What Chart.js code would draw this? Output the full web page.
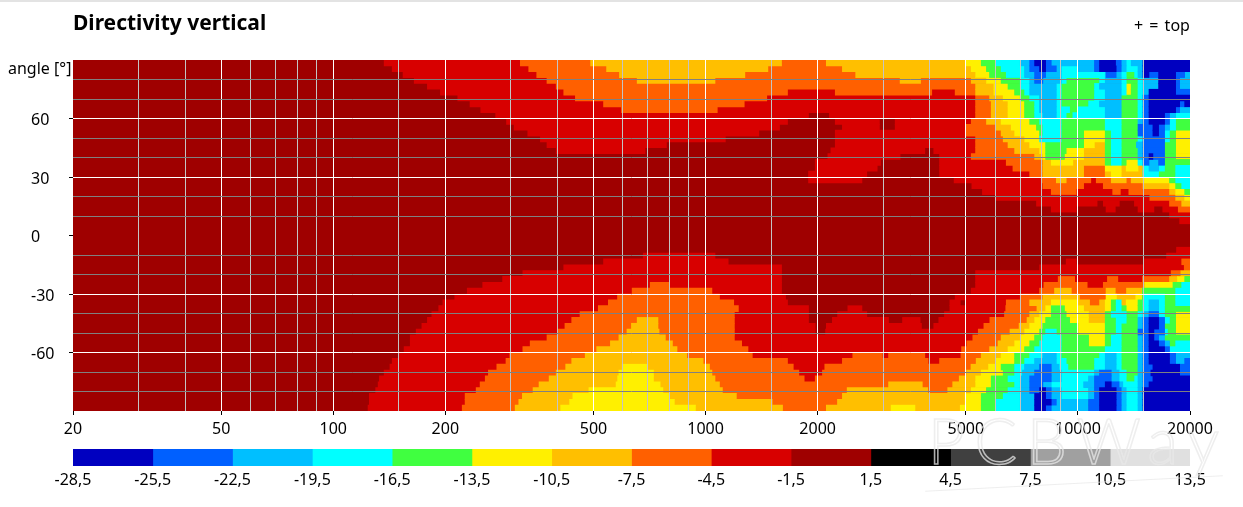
<!DOCTYPE html>
<html>
<head>
<meta charset="utf-8">
<title>Directivity vertical</title>
<script src="https://cdn.jsdelivr.net/npm/chart.js@4/dist/chart.umd.min.js"></script>
<style>
html,body{margin:0;padding:0;background:#fff;}
body{width:1243px;height:507px;position:relative;overflow:hidden;font-family:"Noto Sans",sans-serif;color:#000;}
#topline{position:absolute;left:0;top:0;width:1243px;height:2px;background:#e3e3e3;}
#main{position:absolute;left:0;top:0;}
#bar{position:absolute;left:0;top:449px;}
.t{position:absolute;white-space:nowrap;}
#title{left:73px;top:8px;font-size:21px;font-weight:700;line-height:28px;}
#top{left:1134px;top:15px;font-size:16px;line-height:20px;word-spacing:2px;}
#angle{left:8px;top:58px;font-size:16px;line-height:20px;}
#mark{left:928px;top:402px;font-size:63px;line-height:75px;font-family:Lato,sans-serif;font-weight:300;color:transparent;-webkit-text-stroke:1.5px rgba(232,232,232,.75);letter-spacing:10px;}
#swoosh{position:absolute;left:925px;top:483px;width:298px;height:1px;background:rgba(232,232,232,.75);transform:rotate(-3deg);}
</style>
</head>
<body>
<canvas id="main" width="1243" height="440" style="width:1243px;height:440px"></canvas>
<canvas id="bar" width="1243" height="58" style="width:1243px;height:58px"></canvas>
<div id="topline"></div>
<div id="title" class="t">Directivity vertical</div>
<div id="top" class="t">+ = top</div>
<div id="angle" class="t">angle [°]</div>
<div id="mark" class="t">PCBWay</div>
<div id="swoosh"></div>
<script>
var FONT='"Noto Sans", sans-serif';
var levelDb=[-27,-24,-21,-18,-15,-12,-9,-6,-3,0,3,6,9,12];
var levelColors=['#0000c0','#0060ff','#00bfff','#00ffff','#40ff40','#fff000','#ffbf00','#ff6000','#d80000','#9f0000','#000000','#404040','#a0a0a0','#e0e0e0'];
var scaleTicks=[-28.5,-25.5,-22.5,-19.5,-16.5,-13.5,-10.5,-7.5,-4.5,-1.5,1.5,4.5,7.5,10.5,13.5];
var freqLabels=[20,50,100,200,500,1000,2000,5000,10000,20000];
var freqGrid=[20,30,40,50,60,70,80,90,100,150,200,300,400,500,600,700,800,900,1000,1500,2000,3000,4000,5000,6000,7000,8000,9000,10000,15000,20000];
var angleLabels=[60,30,0,-30,-60];
var angleGrid=[90,80,70,60,50,40,30,20,10,0,-10,-20,-30,-40,-50,-60,-70,-80,-90];
var rowAngles=[88.5,85.5,82.5,79.5,76.5,73.5,70.5,67.5,64.5,61.5,58.5,55.5,52.5,49.5,46.5,43.5,40.5,37.5,34.5,31.5,28.5,25.5,22.5,19.5,16.5,13.5,10.5,7.5,4.5,1.5,-1.5,-4.5,-7.5,-10.5,-13.5,-16.5,-19.5,-22.5,-25.5,-28.5,-31.5,-34.5,-37.5,-40.5,-43.5,-46.5,-49.5,-52.5,-55.5,-58.5,-61.5,-64.5,-67.5,-70.5,-73.5,-76.5,-79.5,-82.5,-85.5,-88.5];
// one row per angle: dB level, frequency where it ends, next level, ...
var rowRuns=[
[0,137,-3,318,-6,491,-9,1600,-6,2110,-9,5000,-12,5500,-15,6030,-18,7000,-21,7420,-24,7650,-27,8190,-24,8480,-21,11080,-24,11430,-27,12620,-24,13070,-21,13480,-18,13900,-21,14950,-27,20000],
[0,144,-3,335,-6,542,-9,1470,-6,2330,-9,5170,-12,5680,-15,6220,-18,7190,-21,7420,-24,7890,-27,8190,-24,8750,-21,9020,-18,10000,-21,11080,-24,11430,-27,12670,-24,13070,-21,13480,-18,14500,-21,14950,-27,20000],
[0,154,-3,352,-6,587,-9,1275,-6,2530,-9,5310,-12,5790,-15,6420,-18,7190,-21,7650,-24,8190,-21,9020,-18,11840,-21,11900,-24,12670,-21,13070,-18,13480,-15,14200,-18,14500,-21,14950,-27,15520,-24,16470,-27,18300,-24,19350,-21,20000],
[0,165,-3,375,-6,655,-9,1060,-6,3330,-9,3780,-6,5170,-9,5680,-12,6220,-15,7000,-18,7420,-21,7650,-24,8050,-21,9020,-18,9300,-15,11430,-18,11840,-21,13070,-18,13480,-15,14500,-18,14950,-21,16470,-27,18300,-24,18760,-21,20000],
[0,179,-3,397,-6,5310,-9,5950,-12,6490,-15,7000,-18,7420,-21,8750,-18,9020,-15,11080,-18,11430,-21,13070,-18,13480,-12,13900,-15,14500,-18,14950,-21,16470,-27,18300,-24,18760,-21,20000],
[0,194,-3,416,-6,1660,-3,2230,-6,4050,-3,4680,-6,5310,-9,5950,-12,6760,-15,7190,-18,7420,-21,8750,-18,9020,-15,11080,-18,11840,-21,13070,-18,13480,-12,13900,-15,14500,-18,14950,-21,15520,-27,18300,-24,20000],
[0,216,-3,447,-6,1460,-3,5310,-6,5790,-9,6300,-12,7000,-15,7420,-18,7890,-21,8750,-18,9020,-15,11080,-18,11840,-21,13070,-15,14500,-18,14950,-24,15520,-27,20000],
[0,233,-3,532,-6,1270,-3,5310,-6,5850,-9,6490,-12,7190,-15,7650,-18,7890,-21,8750,-18,9020,-15,10680,-18,11430,-21,13070,-15,14500,-18,14950,-24,15520,-27,18760,-24,19350,-27,20000],
[0,249,-3,594,-6,1075,-3,5310,-6,5850,-9,6490,-12,7190,-15,7650,-18,7890,-21,8750,-18,9500,-15,10000,-18,11840,-21,13070,-15,14500,-18,14950,-24,15520,-27,18300,-24,18760,-21,20000],
[0,273,-3,1890,0,2150,-3,5310,-6,5850,-9,6490,-12,7190,-15,7650,-18,8050,-21,8750,-18,9300,-15,9690,-18,11840,-21,13070,-15,14500,-18,14950,-24,15520,-27,17090,-24,17620,-21,18300,-18,20000],
[0,292,-3,1660,0,2230,-3,2930,0,3230,-3,5170,-6,5680,-9,6220,-12,7420,-15,7890,-18,9020,-15,11840,-18,13070,-15,14500,-21,14950,-24,15520,-27,17090,-24,17620,-18,18300,-15,20000],
[0,306,-3,1580,0,2330,-3,2930,0,3230,-3,5000,-6,6030,-9,6620,-12,7740,-15,8050,-18,9020,-15,11840,-18,13070,-15,14500,-24,15900,-27,16470,-24,17090,-21,17620,-18,18300,-15,20000],
[0,333,-3,1390,0,2230,-3,5000,-6,6220,-9,6760,-12,7890,-15,8050,-18,9020,-15,10360,-12,11840,-15,12290,-18,13070,-15,14500,-24,15900,-27,16470,-24,17090,-18,17620,-15,18300,-12,20000],
[0,360,-3,1130,0,2230,-3,5310,-6,6300,-9,7190,-12,7890,-18,9020,-15,10360,-12,11840,-15,12290,-18,13070,-15,14500,-18,14950,-24,17090,-18,17620,-15,18300,-12,20000],
[0,375,-3,785,0,2230,-3,5310,-6,6490,-9,7420,-12,8190,-15,10360,-12,11080,-9,11840,-15,12290,-18,13070,-15,14360,-21,14950,-24,17090,-15,18300,-12,20000],
[0,397,-3,688,0,2170,-3,3880,0,4100,-3,5310,-6,6760,-9,7890,-12,8190,-15,9300,-12,10360,-9,11840,-15,12290,-18,13070,-15,14500,-21,14950,-24,17090,-15,18300,-12,20000],
[0,2130,-3,3330,0,4250,-3,5170,-6,7650,-9,8050,-12,8190,-15,9200,-12,10360,-9,11840,-15,12290,-18,13070,-15,14500,-21,14950,-24,15520,-27,15900,-24,17090,-15,18300,-12,20000],
[0,1970,-3,2950,0,4250,-3,6420,-6,8050,-9,8480,-12,9690,-9,11840,-15,12290,-18,13070,-15,13480,-12,14500,-18,14950,-24,15520,-21,16470,-24,17090,-15,20000],
[0,1970,-3,2890,0,4250,-3,6690,-6,8050,-9,10360,-6,11840,-12,13070,-9,13480,-12,14500,-9,14950,-18,15520,-21,16470,-18,17090,-15,18300,-18,20000],
[0,1890,-3,2710,0,4250,-3,7420,-6,8050,-9,10360,-6,11840,-9,12290,-12,13070,-9,14950,-18,16470,-15,18300,-18,20000],
[0,1890,-3,2630,0,4650,-3,8000,-6,8750,-9,9300,-6,10830,-3,11200,-6,12290,-9,13480,-6,13900,-9,14950,-12,17620,-15,18300,-18,20000],
[0,5190,-3,8050,-6,10360,-3,11700,-6,14950,-9,17620,-12,18300,-15,19000,-18,20000],
[0,5540,-3,8480,-6,9900,-3,12400,-6,13000,-3,13700,-6,17620,-9,18300,-12,19350,-15,20000],
[0,6000,-3,15600,-6,18300,-9,19350,-12,20000],
[0,7740,-3,11260,0,11700,-3,12920,0,14180,-3,17620,-6,19000,-9,20000],
[0,8480,-3,9900,0,11900,-3,12600,0,14500,-3,16000,0,16900,-3,18600,-6,20000],
[0,17620,-3,20000],
[0,18760,-3,20000],
[0,20000],
[0,20000],
[0,20000],
[0,20000],
[0,18400,-3,20000],
[0,680,-3,1060,0,17300,-3,20000],
[0,532,-3,1150,0,9300,-3,9900,0,15000,-3,19000,-6,20000],
[0,416,-3,1600,0,7890,-3,19300,-6,20000],
[0,323,-3,1600,0,5310,-3,17800,-6,18900,-9,20000],
[0,285,-3,1600,0,5310,-3,8850,-6,9800,-3,12000,-6,12800,-3,14900,-6,17620,-9,18500,-12,19350,-15,20000],
[0,252,-3,710,-6,800,-3,1600,0,5310,-3,8100,-6,10590,-3,11700,-6,15100,-12,18000,-15,19000,-18,20000],
[0,229,-3,635,-6,1040,-3,1600,0,5170,-3,7890,-6,8650,-9,9600,-6,11900,-9,12600,-6,13500,-9,14900,-15,18300,-18,20000],
[0,212,-3,580,-6,1090,-3,1640,0,4680,-3,7000,-6,8050,-9,10100,-6,11900,-12,12700,-9,14300,-12,14900,-15,15000,-18,17090,-15,18300,-18,20000],
[0,197,-3,548,-6,1190,-3,1660,0,4530,-3,4830,0,5000,-3,6420,-6,7420,-9,8480,-12,10000,-9,10750,-6,11430,-9,11840,-12,12290,-15,12670,-18,13070,-9,13480,-12,14500,-15,14950,-18,15520,-21,16470,-18,17090,-15,18300,-18,20000],
[0,192,-3,515,-6,1225,-3,1890,0,2410,-3,2630,0,4530,-3,6400,-6,7760,-9,8190,-12,8480,-15,9200,-12,10360,-9,11840,-12,12290,-15,12670,-18,13070,-15,13480,-12,14500,-15,14950,-18,15520,-21,16470,-18,17090,-15,20000],
[0,184,-3,460,-6,1195,-3,1890,0,2262,-3,2710,0,4380,-3,6350,-6,7420,-9,7890,-12,8480,-15,9300,-12,10680,-9,11840,-15,12290,-18,13480,-15,14500,-18,14950,-21,15520,-24,16470,-18,17090,-15,18300,-12,20000],
[0,179,-3,437,-6,655,-9,745,-6,1195,-3,1890,0,2190,-3,3100,0,3380,-3,3770,0,4230,-3,5800,-6,7300,-9,7650,-12,8190,-15,9500,-12,10680,-9,11840,-15,12670,-18,13480,-15,14500,-21,14950,-24,15520,-27,16470,-24,17090,-18,17620,-15,18300,-12,20000],
[0,173,-3,419,-6,632,-9,745,-6,1195,-3,1970,0,2110,-3,3800,0,4100,-3,5590,-6,6950,-9,7420,-12,8050,-15,10000,-12,11840,-15,12670,-18,13070,-15,14500,-21,14950,-24,15520,-27,16470,-24,17090,-15,18300,-12,20000],
[0,167,-3,400,-6,615,-9,750,-6,1195,-3,1970,0,2100,-3,5400,-6,6570,-9,7190,-12,7890,-15,8190,-18,8750,-15,10000,-12,11840,-15,12670,-18,13070,-15,14500,-24,15520,-27,16000,-24,17090,-18,17400,-15,18300,-12,20000],
[0,161,-3,375,-6,585,-9,780,-6,1195,-3,5220,-6,6220,-9,7000,-12,7650,-15,8050,-18,9020,-15,10680,-12,11840,-15,12290,-18,13070,-15,14500,-21,14950,-24,15520,-27,16000,-24,16470,-21,17090,-15,20000],
[0,161,-3,338,-6,555,-9,815,-6,1250,-3,5030,-6,6100,-9,6760,-12,7420,-15,7890,-18,9020,-15,10680,-12,11840,-15,12290,-18,13070,-15,14500,-21,14950,-24,15520,-27,16470,-24,17090,-21,17620,-15,18300,-18,20000],
[0,155,-3,323,-6,510,-9,838,-6,1300,-3,4870,-6,5790,-9,6490,-12,7190,-15,7650,-18,9020,-15,11840,-18,13070,-15,14500,-21,14950,-24,15520,-27,17090,-24,17620,-18,20000],
[0,150,-3,298,-6,475,-9,890,-6,1335,-3,2485,-6,2985,-3,3100,-6,3880,-3,4850,-6,5500,-9,6220,-12,6760,-15,7420,-18,8050,-21,8750,-18,9020,-15,11430,-18,11840,-21,12670,-18,13070,-15,14500,-21,14950,-24,15520,-27,17620,-24,18300,-21,20000],
[0,144,-3,291,-6,437,-9,985,-6,1660,-3,2330,-6,3960,-3,4250,-6,5330,-9,6030,-12,6760,-15,7190,-18,7650,-21,8750,-18,9300,-15,11080,-18,11840,-21,12670,-18,13070,-15,14500,-21,14950,-24,15520,-27,17620,-24,18300,-21,19350,-24,20000],
[0,142,-3,275,-6,421,-9,597,-12,695,-9,1025,-6,1720,-3,2090,-6,5160,-9,5750,-12,6220,-15,6760,-18,7190,-21,7890,-24,8480,-21,8900,-18,9400,-15,11080,-18,11840,-21,12670,-18,13070,-15,14500,-21,14950,-24,15900,-27,18760,-24,20000],
[0,137,-3,261,-6,397,-9,585,-12,725,-9,1040,-6,1780,-3,2060,-6,5020,-9,5500,-12,6300,-15,6760,-18,7100,-21,7650,-24,8480,-21,9020,-18,11080,-21,11430,-24,12290,-21,12900,-18,13480,-15,14500,-21,14950,-24,15700,-27,18760,-24,20000],
[0,133,-3,256,-6,380,-9,580,-12,725,-9,1060,-6,1840,-3,1970,-6,4800,-9,5310,-12,5850,-15,6490,-18,7000,-21,7420,-24,8480,-21,9020,-18,10680,-21,11080,-24,12290,-21,12900,-18,13480,-15,14200,-18,14500,-21,14950,-24,15900,-27,20000],
[0,132,-3,248,-6,357,-9,575,-12,755,-9,1090,-6,3100,-9,3820,-6,4610,-9,5310,-12,5850,-15,6760,-18,7000,-21,7420,-24,8050,-21,8480,-18,10360,-21,11080,-24,11840,-27,12290,-24,12900,-21,13200,-18,14500,-21,14950,-24,15520,-27,20000],
[0,130,-3,242,-6,344,-9,486,-12,768,-9,1110,-6,2400,-9,3950,-6,4470,-9,5170,-12,5680,-15,6490,-18,7000,-21,7420,-24,7890,-27,8190,-24,8480,-21,9020,-18,10680,-21,11080,-24,11430,-27,12670,-24,13070,-21,13480,-18,14500,-21,14950,-27,20000],
[0,125,-3,226,-6,322,-9,440,-12,800,-9,1210,-6,2330,-9,4980,-12,5500,-15,6300,-18,7000,-21,7650,-27,8190,-24,8480,-21,9020,-18,10680,-21,11080,-24,11430,-27,12670,-24,13070,-21,13480,-18,14500,-21,14950,-27,20000],
[0,125,-3,226,-6,315,-9,431,-12,825,-9,1510,-6,2260,-9,4980,-12,5500,-15,6030,-18,7000,-21,7650,-27,8480,-24,8750,-21,10680,-24,11430,-27,12670,-24,13070,-21,13480,-18,14500,-21,14950,-27,20000],
[0,124,-3,222,-6,308,-9,408,-12,940,-9,1610,-6,2110,-9,3150,-12,3650,-9,4830,-12,5500,-15,6030,-18,7000,-21,7650,-27,8190,-24,8480,-21,10680,-24,11430,-27,12670,-24,13070,-21,13480,-18,14500,-21,14950,-27,20000]
];

// floating horizontal bars, one dataset per colour level
var sets=levelDb.map(function(db,i){
  var pts=[];
  rowRuns.forEach(function(run,r){
    var from=20;
    for(var k=0;k<run.length;k+=2){
      if(run[k]===db) pts.push({y:rowAngles[r],x:[from,run[k+1]]});
      from=run[k+1];
    }
  });
  return {label:String(db),data:pts,backgroundColor:levelColors[i],borderWidth:0,grouped:false,barPercentage:1,categoryPercentage:1};
}).filter(function(d){return d.data.length>0;});

function fixedWidth(w){return function(s){s.width=w;};}
function fixedHeight(h){return function(s){s.height=h;};}

// dark red under the bars, so the row edges do not let white through
var areaFill={id:'areaFill',beforeDatasetsDraw:function(chart){
  var a=chart.chartArea,ctx=chart.ctx;
  ctx.save();ctx.fillStyle=levelColors[9];ctx.fillRect(a.left,a.top,a.right-a.left,a.bottom-a.top);ctx.restore();
}};

new Chart(document.getElementById('main'),{
  type:'bar',
  data:{datasets:sets},
  plugins:[areaFill],
  options:{
    indexAxis:'y',responsive:false,animation:false,
    layout:{padding:{left:31,top:60,right:53,bottom:0}},
    plugins:{legend:{display:false},tooltip:{enabled:false},title:{display:false}},
    scales:{
      x:{type:'logarithmic',min:20,max:20000,afterFit:fixedHeight(29),
        afterBuildTicks:function(s){s.ticks=freqGrid.map(function(v){return {value:v};});},
        border:{display:false},
        grid:{z:1,drawTicks:true,tickLength:4,lineWidth:1,
          color:function(c){var v=c.tick.value;if(v===20||v===20000)return 'rgba(0,0,0,0)';return freqLabels.indexOf(v)>=0?'#ffffff':'#c4c4c4';},
          tickColor:function(c){return freqLabels.indexOf(c.tick.value)>=0?'#000':'rgba(0,0,0,0)';}},
        ticks:{autoSkip:false,maxRotation:0,padding:5,color:'#000',font:{family:FONT,size:16},
          callback:function(v){return freqLabels.indexOf(v)>=0?String(v):'';}}},
      y:{type:'linear',min:-90,max:90,offset:false,afterFit:fixedWidth(42),
        afterBuildTicks:function(s){s.ticks=angleGrid.map(function(v){return {value:v};});},
        border:{display:false},
        grid:{offset:false,z:1,drawTicks:true,tickLength:4,lineWidth:1,
          color:function(c){var v=c.tick.value;if(v===0||v===90||v===-90)return 'rgba(0,0,0,0)';return angleLabels.indexOf(v)>=0?'#ffffff':'#808080';},
          tickColor:function(c){return angleLabels.indexOf(c.tick.value)>=0?'#000':'rgba(0,0,0,0)';}},
        ticks:{autoSkip:false,crossAlign:'far',labelOffset:2,color:'#000',font:{family:FONT,size:16},
          callback:function(v){return angleLabels.indexOf(v)>=0?String(v):'';}}}
    }
  }
});

// colour scale below the map
var barSets=levelColors.map(function(c,i){
  return {data:[{y:'dB',x:[scaleTicks[i],scaleTicks[i+1]]}],backgroundColor:c,borderWidth:0,grouped:false,barPercentage:1,categoryPercentage:1};
});
new Chart(document.getElementById('bar'),{
  type:'bar',
  data:{labels:['dB'],datasets:barSets},
  options:{
    indexAxis:'y',responsive:false,animation:false,
    layout:{padding:{left:73,top:0,right:53,bottom:0}},
    plugins:{legend:{display:false},tooltip:{enabled:false}},
    scales:{
      x:{type:'linear',min:-28.5,max:13.5,afterFit:fixedHeight(41),
        afterBuildTicks:function(s){s.ticks=scaleTicks.map(function(v){return {value:v};});},
        border:{display:false},grid:{display:false,drawTicks:false},
        ticks:{autoSkip:false,maxRotation:0,padding:5,color:'#000',font:{family:FONT,size:16},
          callback:function(v){return v.toFixed(1).replace('.',',');}}},
      y:{type:'category',display:false}
    }
  }
});
</script>
</body>
</html>
